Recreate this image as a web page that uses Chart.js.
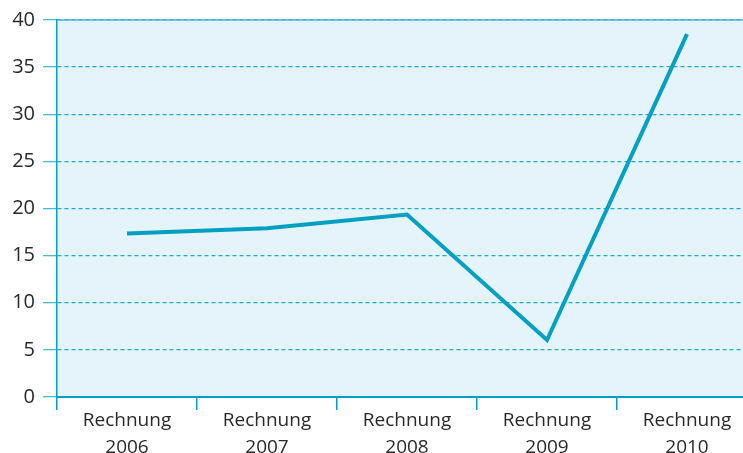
<!DOCTYPE html>
<html>
<head>
<meta charset="utf-8">
<script src="https://cdn.jsdelivr.net/npm/chart.js@4/dist/chart.umd.min.js"></script>
<style>
html,body{margin:0;padding:0;background:#fff;overflow:hidden;width:743px;height:453px;}
#wrap{width:757px;height:453px;position:relative;}
</style>
</head>
<body>
<div id="wrap"><canvas id="c" width="757" height="453"></canvas></div>
<script>
const categories = [['Rechnung','2006'],['Rechnung','2007'],['Rechnung','2008'],['Rechnung','2009'],['Rechnung','2010']];
const values = [17.35, 17.9, 19.35, 6.05, 38.5];
const yTicks = [0,5,10,15,20,25,30,35,40];

const frame = {
  id: 'frame',
  beforeDraw(chart){
    const {ctx, chartArea:a} = chart;
    ctx.save();
    ctx.fillStyle = '#e5f4fa';
    ctx.fillRect(a.left, a.top, a.right - a.left, a.bottom - a.top);
    ctx.restore();
  },
  beforeDatasetsDraw(chart){
    const {ctx, chartArea:a} = chart;
    ctx.save();
    ctx.strokeStyle = '#4bb8d8';
    ctx.lineWidth = 1.5;
    ctx.beginPath();
    ctx.moveTo(a.left, a.top);
    ctx.lineTo(a.right, a.top);
    ctx.stroke();
    ctx.restore();
  }
};

new Chart(document.getElementById('c'), {
  type: 'line',
  data: {
    labels: categories,
    datasets: [{
      data: values,
      borderColor: '#00a0c2',
      borderWidth: 4,
      pointRadius: 0,
      tension: 0,
      fill: false
    }]
  },
  options: {
    responsive: false,
    animation: false,
    devicePixelRatio: 1,
    layout: {padding: {top: 20, right: 0, left: 0, bottom: 0}},
    plugins: {legend: {display: false}, tooltip: {enabled: false}},
    scales: {
      x: {
        offset: true,
        grid: {
          offset: true,
          drawOnChartArea: false,
          drawTicks: true,
          tickLength: 13,
          color: '#00a0c8',
          lineWidth: 1.5
        },
        border: {display: true, color: '#00a0c8', width: 2},
        ticks: {
          color: '#2a2a2a',
          font: {family: 'Open Sans', size: 19, lineHeight: 1.42},
          padding: -3,
          maxRotation: 0,
          autoSkip: false
        },
        afterFit(scale){ scale.height = 56; }
      },
      y: {
        min: 0,
        max: 40,
        afterBuildTicks(scale){ scale.ticks = yTicks.map(v => ({value: v})); },
        grid: {
          color: '#1aaccf',
          lineWidth: 1.3,
          drawTicks: true,
          tickLength: 14,
          tickColor: '#4bb8d8',
          tickBorderDash: []
        },
        border: {display: true, color: '#00a0c8', width: 1.5, dash: [4,3]},
        ticks: {
          color: '#2a2a2a',
          font: {family: 'Open Sans', size: 20},
          padding: 8
        },
        afterFit(scale){ scale.width = 57; }
      }
    }
  },
  plugins: [frame]
});
</script>
</body>
</html>
